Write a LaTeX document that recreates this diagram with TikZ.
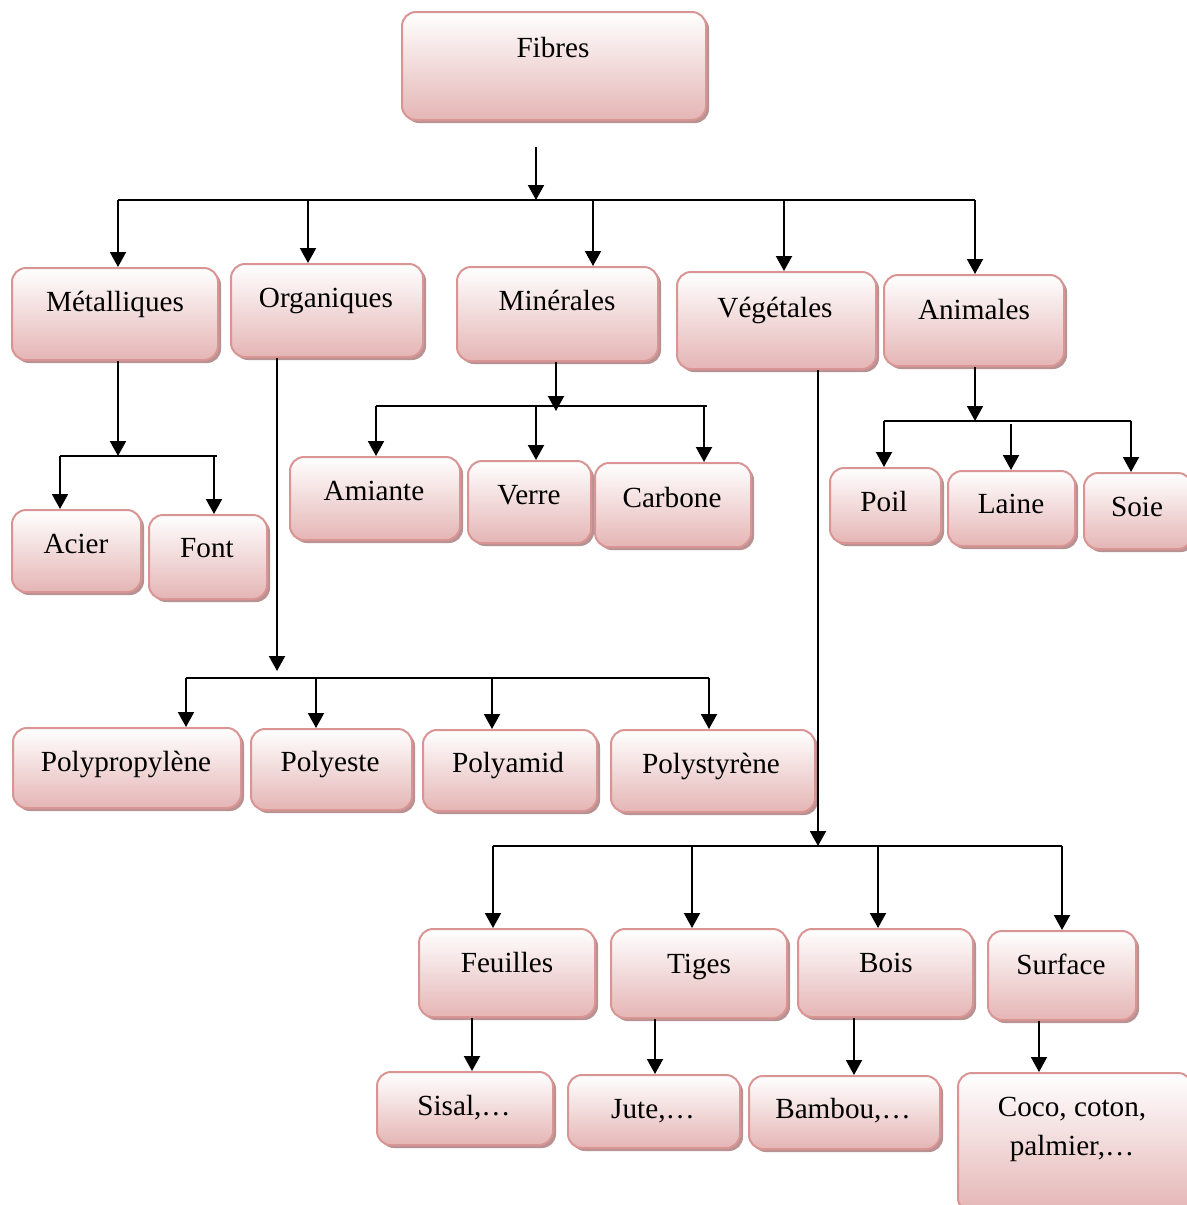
\documentclass[tikz,border=0pt]{standalone}
\usepackage{fontspec}
\setmainfont{Liberation Serif}
\usetikzlibrary{arrows.meta,shadows,fit}
\definecolor{boxpink}{HTML}{E5B5B5}
\definecolor{boxedge}{HTML}{D99594}
\definecolor{shadowc}{HTML}{B89292}
\tikzset{
 box/.style={draw=boxedge, line width=1pt, rounded corners=7pt, top color=white, bottom color=boxpink, inner sep=0pt,
   drop shadow={shadow xshift=1.5pt, shadow yshift=-1.5pt, fill=shadowc, opacity=1}},
 lbl/.style={font=\fontsize{14.6}{19.5}\selectfont, inner sep=0pt, align=center},
 arr/.style={line width=1pt, -{Triangle[length=7.5pt,width=8pt]}},
 bus/.style={line width=1.4pt},
}
\begin{document}
\begin{tikzpicture}[x=0.5pt,y=-0.5pt]
\useasboundingbox (0,0) rectangle (1187,1205);
% boxes
\node[box, fit={(402,12) (706,120)}] (fibres) {};
\node[box, fit={(12,268) (218,360)}] (metal) {};
\node[box, fit={(231,264) (423,357)}] (org) {};
\node[box, fit={(457,267) (658,361)}] (min) {};
\node[box, fit={(677,272) (876,369)}] (veg) {};
\node[box, fit={(884,275) (1064,366)}] (ani) {};
\node[box, fit={(12,510) (141,592)}] (acier) {};
\node[box, fit={(149,515) (267,599)}] (font) {};
\node[box, fit={(290,457) (460,540)}] (amiante) {};
\node[box, fit={(468,461) (591,543)}] (verre) {};
\node[box, fit={(595,463) (751,547)}] (carbone) {};
\node[box, fit={(830,468) (941,543)}] (poil) {};
\node[box, fit={(948,471) (1075,546)}] (laine) {};
\node[box, fit={(1084,473) (1192,549)}] (soie) {};
\node[box, fit={(13,728) (241,808)}] (polyp) {};
\node[box, fit={(251,729) (412,810)}] (polye) {};
\node[box, fit={(423,730) (597,811)}] (polya) {};
\node[box, fit={(611,730) (815,812)}] (polys) {};
\node[box, fit={(419,929) (595,1017)}] (feuil) {};
\node[box, fit={(611,929) (787,1018)}] (tiges) {};
\node[box, fit={(798,929) (973,1017)}] (bois) {};
\node[box, fit={(988,931) (1136,1020)}] (surf) {};
\node[box, fit={(377,1072) (553,1145)}] (sisal) {};
\node[box, fit={(568,1075) (740,1148)}] (jute) {};
\node[box, fit={(749,1076) (940,1149)}] (bambou) {};
\node[box, fit={(958,1073) (1192,1212)}] (coco) {};
% labels
\node[lbl, anchor=base] (t-fibres) at (553,57) {Fibres};
\node[lbl, anchor=base] (t-metal) at (115,311) {Métalliques};
\node[lbl, anchor=base] (t-org) at (326,307) {Organiques};
\node[lbl, anchor=base] (t-min) at (557,310) {Minérales};
\node[lbl, anchor=base] (t-veg) at (775,317) {Végétales};
\node[lbl, anchor=base] (t-ani) at (974,319) {Animales};
\node[lbl, anchor=base] (t-acier) at (76,553) {Acier};
\node[lbl, anchor=base] (t-font) at (207,557) {Font};
\node[lbl, anchor=base] (t-amiante) at (374,500) {Amiante};
\node[lbl, anchor=base] (t-verre) at (529,504) {Verre};
\node[lbl, anchor=base] (t-carbone) at (672,507) {Carbone};
\node[lbl, anchor=base] (t-poil) at (884,511) {Poil};
\node[lbl, anchor=base] (t-laine) at (1011,513) {Laine};
\node[lbl, anchor=base] (t-soie) at (1137,516) {Soie};
\node[lbl, anchor=base] (t-polyp) at (126,771) {Polypropylène};
\node[lbl, anchor=base] (t-polye) at (330,771) {Polyeste};
\node[lbl, anchor=base] (t-polya) at (508,772) {Polyamid};
\node[lbl, anchor=base] (t-polys) at (711,773) {Polystyrène};
\node[lbl, anchor=base] (t-feuil) at (507,972) {Feuilles};
\node[lbl, anchor=base] (t-tiges) at (699,973) {Tiges};
\node[lbl, anchor=base] (t-bois) at (886,972) {Bois};
\node[lbl, anchor=base] (t-surf) at (1061,974) {Surface};
\node[lbl, anchor=base] (t-sisal) at (464,1115) {Sisal,…};
\node[lbl, anchor=base] (t-jute) at (653,1118) {Jute,…};
\node[lbl, anchor=base] (t-bambou) at (843,1118) {Bambou,…};
\node[lbl, anchor=center] (t-coco) at (1072,1129) {Coco, coton,\\palmier,…};
% connector coordinates
\coordinate (f0) at (536,147);
\coordinate (f1) at (536,200);
\coordinate (bA) at (118,200);
\coordinate (bB) at (308,200);
\coordinate (bC) at (593,200);
\coordinate (bD) at (784,200);
\coordinate (bE) at (975,200);
% top level
\draw[arr] (f0) -- (f1);
\draw[bus] (bA) -- (bE);
\foreach \b/\n in {bA/metal,bB/org,bC/min,bD/veg,bE/ani}
  \draw[arr] (\b) -- (\b |- \n.north);
% Metalliques
\coordinate (m0) at (118,456);
\coordinate (m1) at (60,456);
\coordinate (m2) at (214,456);
\draw[arr] (m0 |- metal.south) -- (m0);
\draw[bus] (m1) -- (217,456);
\draw[arr] (m1) -- (m1 |- acier.north);
\draw[arr] (m2) -- (m2 |- font.north);
% Organiques
\coordinate (o0) at (277,671);
\coordinate (o1) at (186,678);
\coordinate (o2) at (316,678);
\coordinate (o3) at (492,678);
\coordinate (o4) at (709,678);
\draw[arr] (o0 |- org.south) -- (o0);
\draw[bus] (o1) -- (o4);
\draw[arr] (o1) -- (o1 |- polyp.north);
\draw[arr] (o2) -- (o2 |- polye.north);
\draw[arr] (o3) -- (o3 |- polya.north);
\draw[arr] (o4) -- (o4 |- polys.north);
% Minerales
\coordinate (n0) at (556,411);
\coordinate (n1) at (376,406);
\coordinate (n2) at (536,406);
\coordinate (n3) at (704,406);
\draw[arr] (n0 |- min.south) -- (n0);
\draw[bus] (n1) -- (707,406);
\draw[arr] (n1) -- (n1 |- amiante.north);
\draw[arr] (n2) -- (n2 |- verre.north);
\draw[arr] (n3) -- (n3 |- carbone.north);
% Animales
\coordinate (a0) at (975,421);
\coordinate (a1) at (884,421);
\coordinate (a2) at (1011,424);
\coordinate (a3) at (1131,421);
\draw[arr] (a0 |- ani.south) -- (a0);
\draw[bus] (a1) -- (a3);
\draw[arr] (a1) -- (a1 |- poil.north);
\draw[arr] (a2) -- (a2 |- laine.north);
\draw[arr] (a3) -- (a3 |- soie.north);
% Vegetales
\coordinate (v0) at (818,846);
\coordinate (v1) at (493,846);
\coordinate (v2) at (692,846);
\coordinate (v3) at (878,846);
\coordinate (v4) at (1062,846);
\draw[arr] (v0 |- veg.south) -- (v0);
\draw[bus] (v1) -- (v4);
\draw[arr] (v1) -- (v1 |- feuil.north);
\draw[arr] (v2) -- (v2 |- tiges.north);
\draw[arr] (v3) -- (v3 |- bois.north);
\draw[arr] (v4) -- (v4 |- surf.north);
% bottom row
\coordinate (x1) at (472,0);
\coordinate (x2) at (655,0);
\coordinate (x3) at (854,0);
\coordinate (x4) at (1039,0);
\draw[arr] (x1 |- feuil.south) -- (x1 |- sisal.north);
\draw[arr] (x2 |- tiges.south) -- (x2 |- jute.north);
\draw[arr] (x3 |- bois.south) -- (x3 |- bambou.north);
\draw[arr] (x4 |- surf.south) -- (x4 |- coco.north);
\end{tikzpicture}
\end{document}
